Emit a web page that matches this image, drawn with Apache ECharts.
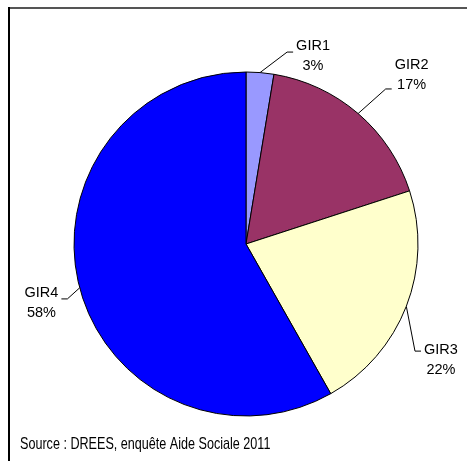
<!DOCTYPE html>
<html><head><meta charset="utf-8">
<script src="https://cdn.jsdelivr.net/npm/echarts@6/dist/echarts.min.js"></script>
<style>html,body{margin:0;padding:0;background:#fff}#c{width:467px;height:461px}</style>
</head><body><div id="c"></div>
<script>
const categories = ['GIR1', 'GIR2', 'GIR3', 'GIR4'];
const shares = [2.6, 17.4, 21.8, 58.2];
const shownPercents = ['3%', '17%', '22%', '58%'];
const sourceNote = 'Source : DREES, enquête Aide Sociale 2011';

const sliceColors = ['#9999FF', '#993366', '#FFFFCC', '#0000FF'];
const labelOffsets = [[53, -17], [53.5, -38.6], [34.6, 53.3], [-38.2, 15.1]];
const lineOffsetsY = [-3.5, 14, -8.5, -4];
const FONT = '"Liberation Sans", Arial, sans-serif';

const chart = echarts.init(document.getElementById('c'), null, {renderer: 'canvas'});
chart.setOption({
  animation: false,
  backgroundColor: '#fff',
  graphic: [
    {type: 'line', shape: {x1: 8, y1: 8, x2: 467, y2: 8}, style: {stroke: '#555', lineWidth: 2}},
    {type: 'line', shape: {x1: 9, y1: 7, x2: 9, y2: 461}, style: {stroke: '#000', lineWidth: 2}},
    {type: 'text', x: 20, y: 445, scaleY: 1.25,
     style: {text: sourceNote, font: '12.6px ' + FONT, fill: '#000', textVerticalAlign: 'middle'}}
  ],
  series: [{
    type: 'pie',
    center: [246, 244],
    radius: 172,
    startAngle: 90,
    clockwise: true,
    avoidLabelOverlap: false,
    itemStyle: {borderColor: '#000', borderWidth: 1},
    label: {
      show: true,
      position: 'outside',
      alignTo: 'none',
      fontFamily: FONT,
      fontSize: 14.5,
      lineHeight: 20,
      color: '#000',
      formatter: p => categories[p.dataIndex] + '\n' + shownPercents[p.dataIndex]
    },
    labelLine: {show: true, length: 15, length2: 6, lineStyle: {color: '#000', width: 1}},
    labelLayout: function (p) {
      const i = p.dataIndex;
      const a = p.labelLinePoints[0];
      const cx = a[0] + labelOffsets[i][0];
      const cy = a[1] + labelOffsets[i][1];
      const w = p.labelRect.width;
      const side = labelOffsets[i][0] > 0 ? 1 : -1;
      const ex = cx - side * (w / 2 + 3);
      const ey = cy + lineOffsetsY[i];
      return {
        x: cx, y: cy, align: 'center', verticalAlign: 'middle',
        labelLinePoints: [[a[0], a[1]], [ex - side * 6, ey], [ex, ey]]
      };
    },
    emphasis: {disabled: true},
    data: categories.map((c, i) => ({name: c, value: shares[i], itemStyle: {color: sliceColors[i]}}))
  }]
});
</script></body></html>
